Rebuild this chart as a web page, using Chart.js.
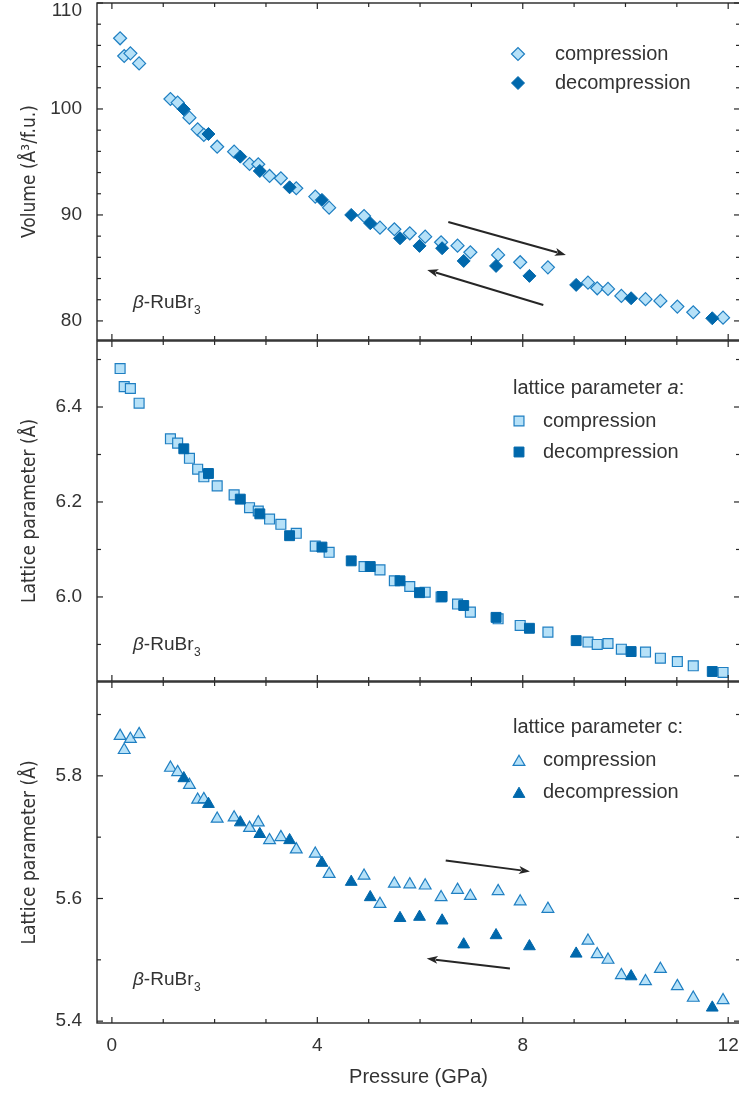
<!DOCTYPE html>
<html>
<head>
<meta charset="utf-8">
<script src="https://cdn.jsdelivr.net/npm/chart.js@4/dist/chart.umd.min.js"></script>
<style>
  html, body { margin: 0; padding: 0; background: #fff; overflow: hidden; }
  #wrap { position: relative; width: 739px; height: 1093px; overflow: hidden; }
  canvas { position: absolute; left: 0; }
</style>
</head>
<body>
<div id="wrap">
  <canvas id="c-vol" width="745" height="343" style="top:0"></canvas>
  <canvas id="c-a" width="745" height="346" style="top:338px"></canvas>
  <canvas id="c-c" width="745" height="414" style="top:679px"></canvas>
</div>
<script>
// ── Data (pressure in GPa) ────────────────────────────
const pCompression = [0.16, 0.24, 0.36, 0.53, 1.14, 1.28, 1.51, 1.67, 1.79, 2.05, 2.38, 2.68, 2.85,
  3.07, 3.29, 3.59, 3.96, 4.23, 4.91, 5.22, 5.50, 5.80, 6.10, 6.41, 6.73, 6.98, 7.52, 7.95, 8.49,
  9.27, 9.45, 9.66, 9.92, 10.39, 10.68, 11.01, 11.32, 11.90];
const pDecompression = [1.40, 1.88, 2.50, 2.88, 3.46, 4.09, 4.66, 5.03, 5.61, 5.99, 6.43, 6.85,
  7.48, 8.13, 9.04, 10.11, 11.69];

const volCompression = [106.67, 105.0, 105.25, 104.3, 100.94, 100.6, 99.18, 98.08, 97.55, 96.44, 95.97,
  94.81, 94.78, 93.68, 93.46, 92.52, 91.73, 90.69, 89.9, 88.8, 88.65, 88.27, 87.95, 87.42, 87.1, 86.48,
  86.23, 85.54, 85.06, 83.61, 83.08, 83.02, 82.36, 82.05, 81.89, 81.35, 80.82, 80.31];
const volDecompression = [99.97, 97.64, 95.5, 94.15, 92.61, 91.42, 90.0, 89.22, 87.8, 87.08, 86.86,
  85.66, 85.19, 84.25, 83.4, 82.14, 80.25];

const aCompression = [6.481, 6.443, 6.439, 6.408, 6.333, 6.324, 6.292, 6.269, 6.253, 6.234, 6.215,
  6.188, 6.181, 6.164, 6.153, 6.134, 6.107, 6.094, 6.064, 6.057, 6.034, 6.022, 6.010, 6.000, 5.985,
  5.968, 5.954, 5.940, 5.926, 5.905, 5.900, 5.902, 5.890, 5.884, 5.871, 5.864, 5.855, 5.841];
const aDecompression = [6.312, 6.260, 6.206, 6.175, 6.129, 6.105, 6.076, 6.064, 6.034, 6.009, 6.001,
  5.982, 5.957, 5.934, 5.908, 5.885, 5.843];

const cCompression = [5.865, 5.842, 5.860, 5.868, 5.813, 5.806, 5.785, 5.761, 5.762, 5.730, 5.732,
  5.715, 5.724, 5.695, 5.700, 5.680, 5.673, 5.640, 5.637, 5.591, 5.624, 5.623, 5.621, 5.602, 5.614,
  5.604, 5.612, 5.595, 5.583, 5.531, 5.509, 5.500, 5.475, 5.465, 5.485, 5.457, 5.438, 5.434];
const cDecompression = [5.796, 5.754, 5.724, 5.705, 5.695, 5.658, 5.627, 5.602, 5.568, 5.570, 5.564,
  5.525, 5.540, 5.522, 5.510, 5.473, 5.422];

// tick labels
const xTicks = [0, 4, 8, 12];
const volTicks = [80, 90, 100, 110];
const aTicks = [6.0, 6.2, 6.4];
const cTicks = [5.4, 5.6, 5.8];

// hysteresis arrows [x0, y0, x1, y1] in data units
const volArrows = [[6.55, 89.34, 8.84, 86.23], [8.40, 81.51, 6.14, 84.81]];
const cArrows = [[6.50, 5.662, 8.14, 5.644], [7.75, 5.486, 6.13, 5.502]];

// ── Style ─────────────────────────────────────────────
const INK = '#262626';
const TEXT = '#333333';
const LIGHT = '#b6e1f8';
const EDGE = '#1f7fc2';
const DARK = '#0068ac';
const SANS = "'Liberation Sans', Arial, Helvetica, sans-serif";
const NARROW = "'Liberation Sans Narrow', 'Arial Narrow', 'DejaVu Sans Condensed', sans-serif";

Chart.defaults.font.family = SANS;
Chart.defaults.color = TEXT;

const zip = (xs, ys) => xs.map((x, i) => ({ x, y: ys[i] }));

// scales must not push the plot area around
function noPad(s) {
  s.paddingTop = 0; s.paddingBottom = 0; s.paddingLeft = 0; s.paddingRight = 0;
}

// ── Plugin: frame with inward ticks, legend, labels, arrows ──
function tickLine(ctx, x0, y0, x1, y1) {
  ctx.beginPath(); ctx.moveTo(x0, y0); ctx.lineTo(x1, y1); ctx.stroke();
}

function drawArrow(ctx, x0, y0, x1, y1) {
  const ang = Math.atan2(y1 - y0, x1 - x0);
  const L = 11, W = 4;
  ctx.beginPath();
  ctx.moveTo(x0, y0);
  ctx.lineTo(x1 - Math.cos(ang) * L * 0.8, y1 - Math.sin(ang) * L * 0.8);
  ctx.stroke();
  ctx.beginPath();
  ctx.moveTo(x1, y1);
  ctx.lineTo(x1 - Math.cos(ang) * L + Math.sin(ang) * W, y1 - Math.sin(ang) * L - Math.cos(ang) * W);
  ctx.lineTo(x1 - Math.cos(ang) * L * 0.75, y1 - Math.sin(ang) * L * 0.75);
  ctx.lineTo(x1 - Math.cos(ang) * L - Math.sin(ang) * W, y1 - Math.sin(ang) * L + Math.cos(ang) * W);
  ctx.closePath();
  ctx.fill();
}

const panelDecor = {
  id: 'panelDecor',
  afterDatasetsDraw(chart, args, o) {
    const { ctx, chartArea: a } = chart;
    const xs = chart.scales.x, ys = chart.scales.y;
    ctx.save();
    ctx.strokeStyle = INK;
    ctx.fillStyle = INK;
    ctx.lineWidth = 1.4;
    ctx.strokeRect(a.left, a.top, a.right - a.left, a.bottom - a.top);

    // x ticks, every 1 GPa, major at labels
    ctx.lineWidth = 1.2;
    for (let k = Math.ceil(xs.min); k <= Math.floor(xs.max); k++) {
      const px = xs.getPixelForValue(k);
      const len = xTicks.includes(k) ? 6 : 4;
      tickLine(ctx, px, a.bottom, px, a.bottom - len);
      tickLine(ctx, px, a.top, px, a.top + len);
    }
    // y ticks
    const st = o.minorStep;
    for (let k = Math.ceil(ys.min / st - 1e-9); k <= Math.floor(ys.max / st + 1e-9); k++) {
      const v = k * st;
      const py = ys.getPixelForValue(v);
      const r = v / o.majorStep;
      const len = Math.abs(r - Math.round(r)) < 1e-6 ? 6 : 4;
      tickLine(ctx, a.left, py, a.left + len, py);
      tickLine(ctx, a.right, py, a.right - len, py);
    }

    // arrows
    ctx.lineWidth = 2;
    (o.arrows || []).forEach(([x0, y0, x1, y1]) => {
      drawArrow(ctx, xs.getPixelForValue(x0), ys.getPixelForValue(y0),
        xs.getPixelForValue(x1), ys.getPixelForValue(y1));
    });

    // compound label
    let tx = 133;
    const by = a.bottom - o.labelLift;
    ctx.fillStyle = TEXT;
    ctx.textBaseline = 'alphabetic';
    ctx.textAlign = 'left';
    ctx.font = `italic 19px ${SANS}`;
    ctx.fillText('β', tx, by); tx += ctx.measureText('β').width;
    ctx.font = `19px ${SANS}`;
    ctx.fillText('-RuBr', tx, by); tx += ctx.measureText('-RuBr').width + 0.5;
    ctx.font = `12px ${SANS}`;
    ctx.fillText('3', tx, by + 6);

    // legend
    const lg = o.legend;
    ctx.textBaseline = 'middle';
    if (lg.title) {
      let lx = lg.titleX;
      const ly = a.top + lg.titleY;
      lg.title.forEach(([s, italic]) => {
        ctx.font = `${italic ? 'italic ' : ''}20px ${SANS}`;
        ctx.fillText(s, lx, ly);
        lx += ctx.measureText(s).width;
      });
    }
    const order = [1, 0]; // compression row first, then decompression
    order.forEach((di, row) => {
      const ds = chart.data.datasets[di];
      const ry = a.top + lg.rows[row];
      ctx.lineWidth = ds.borderWidth;
      ctx.fillStyle = ds.backgroundColor;
      ctx.strokeStyle = ds.borderColor;
      Chart.helpers.drawPoint(ctx, { pointStyle: ds.pointStyle, radius: lg.r, borderWidth: ds.borderWidth },
        lg.markerX, ry + (ds.pointStyle === 'triangle' ? 2 : 0));
      ctx.fillStyle = TEXT;
      ctx.font = `20px ${SANS}`;
      ctx.fillText(ds.label, lg.textX, ry);
    });
    ctx.restore();
  }
};

// ── Panel factory ─────────────────────────────────────
function makePanel(id, cfg) {
  const isBottom = !!cfg.showX;
  return new Chart(document.getElementById(id), {
    type: 'scatter',
    data: {
      datasets: [
        {
          label: 'decompression', data: zip(pDecompression, cfg.dec), order: 1,
          pointStyle: cfg.marker, pointRadius: cfg.r, borderWidth: 1,
          backgroundColor: DARK, borderColor: DARK,
        },
        {
          label: 'compression', data: zip(pCompression, cfg.comp), order: 2,
          pointStyle: cfg.marker, pointRadius: cfg.r, borderWidth: 1.2,
          backgroundColor: LIGHT, borderColor: EDGE,
        },
      ],
    },
    options: {
      responsive: false,
      animation: false,
      events: [],
      layout: { autoPadding: false, padding: { top: 3, bottom: isBottom ? 0 : 3, left: 0, right: 5 } },
      plugins: {
        legend: { display: false },
        tooltip: { enabled: false },
        panelDecor: cfg.decor,
      },
      scales: {
        x: {
          type: 'linear', min: -0.29, max: 12.23,
          display: isBottom,
          afterBuildTicks: s => { s.ticks = xTicks.map(v => ({ value: v })); },
          afterFit: s => { s.height = isBottom ? 70 : 0; noPad(s); },
          grid: { display: false, drawTicks: false },
          border: { display: false },
          ticks: { font: { size: 19 }, color: TEXT, padding: 11, autoSkip: false, maxRotation: 0 },
          title: {
            display: true, text: 'Pressure (GPa)', color: TEXT,
            font: { size: 20 }, padding: { top: 0, bottom: 4 },
          },
        },
        y: {
          type: 'linear', min: cfg.yMin, max: cfg.yMax,
          afterBuildTicks: s => { s.ticks = cfg.ticks.map(v => ({ value: v })); },
          afterFit: s => { s.width = 97; noPad(s); },
          grid: { display: false, drawTicks: false },
          border: { display: false },
          ticks: {
            font: { size: 19, lineHeight: 0.8 }, color: TEXT, padding: 15, autoSkip: false,
            callback: v => {
              const s = v.toFixed(cfg.dec1 ? 1 : 0);
              return Math.abs(v - cfg.yMax) < 1e-9 ? ['', s] : s;
            },
          },
          title: {
            display: true, text: cfg.title, color: TEXT,
            font: { family: NARROW, size: 19 }, padding: { top: 19, bottom: 0 },
          },
        },
      },
    },
    plugins: [panelDecor],
  });
}

makePanel('c-vol', {
  comp: volCompression, dec: volDecompression, marker: 'rectRot', r: 6.5,
  yMin: 78.2, yMax: 110, ticks: volTicks, dec1: false, title: 'Volume (Å³/f.u.)',
  decor: {
    minorStep: 2, majorStep: 10, arrows: volArrows, labelLift: 32,
    legend: { markerX: 518, textX: 555, rows: [51, 80], r: 6.5 },
  },
});

makePanel('c-a', {
  comp: aCompression, dec: aDecompression, marker: 'rect', r: 7,
  yMin: 5.823, yMax: 6.539, ticks: aTicks, dec1: true, title: 'Lattice parameter (Å)',
  decor: {
    minorStep: 0.1, majorStep: 0.2, arrows: [], labelLift: 31,
    legend: {
      title: [['lattice parameter ', false], ['a', true], [':', false]], titleX: 513, titleY: 47,
      markerX: 519, textX: 543, rows: [80, 111], r: 7,
    },
  },
});

makePanel('c-c', {
  comp: cCompression, dec: cDecompression, marker: 'triangle', r: 6.8,
  yMin: 5.397, yMax: 5.953, ticks: cTicks, dec1: true, title: 'Lattice parameter (Å)', showX: true,
  decor: {
    minorStep: 0.1, majorStep: 0.2, arrows: cArrows, labelLift: 38,
    legend: {
      title: [['lattice parameter c:', false]], titleX: 513, titleY: 45,
      markerX: 519, textX: 543, rows: [78, 110], r: 6.8,
    },
  },
});
</script>
</body>
</html>
